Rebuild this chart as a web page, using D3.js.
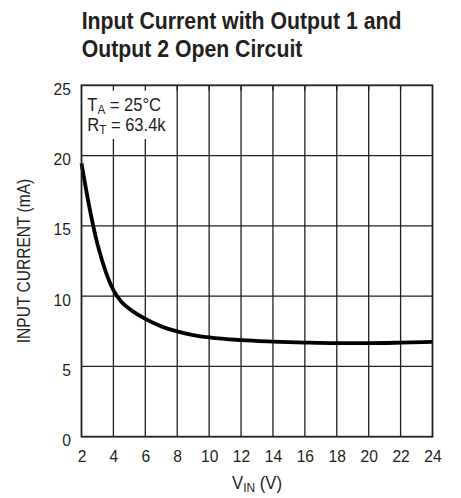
<!DOCTYPE html>
<html>
<head>
<meta charset="utf-8">
<script src="https://cdn.jsdelivr.net/npm/d3@7"></script>
<style>
  html, body { margin: 0; padding: 0; background: #fff; }
  svg { display: block; }
  .r { font-family: "Liberation Sans", Arial, Helvetica, sans-serif; fill: #231f20; }
</style>
</head>
<body>
<svg id="chart" width="461" height="498"></svg>
<script>
// ---- data ----
const vin = [2, 2.5, 3, 3.5, 4, 4.5, 5, 6, 7, 8, 9, 10, 12, 14, 16, 18, 20, 22, 24];
const current = [19.45, 16.3, 13.7, 11.8, 10.43, 9.6, 9.1, 8.38, 7.85, 7.49, 7.23, 7.06, 6.87, 6.77, 6.7, 6.66, 6.66, 6.69, 6.74];
const xTicks = [2, 4, 6, 8, 10, 12, 14, 16, 18, 20, 22, 24];
const yTicks = [0, 5, 10, 15, 20, 25];
const titleLines = ["Input Current with Output 1 and", "Output 2 Open Circuit"];

// ---- layout ----
const svg = d3.select("#chart");
const L = 81.5, R = 432.5, T = 85.3, B = 436.7;
const x = d3.scaleLinear().domain([2, 24]).range([L, R]);
const y = d3.scaleLinear().domain([0, 25]).range([B, T]);
const ink = "#231f20";

// horizontal condensing helper around a pivot x
function squeeze(sel, s, px) {
  sel.attr("transform", `translate(${px},0) scale(${s},1) translate(${-px},0)`);
}
function fitWidth(sel, target, px) {
  const w = sel.node().getBBox().width;
  const s = target / w;
  squeeze(sel, s, px);
  return s;
}

// title
const t1 = svg.append("text").attr("class", "r")
  .attr("x", 81.7).attr("y", 29.3).attr("font-size", 24.5).attr("font-weight", "bold")
  .text(titleLines[0]);
const ts = fitWidth(t1, 320, 81.7);
const t2 = svg.append("text").attr("class", "r")
  .attr("x", 81.7).attr("y", 56.7).attr("font-size", 24.5).attr("font-weight", "bold")
  .text(titleLines[1]);
squeeze(t2, ts, 81.7);

// grid
const g = svg.append("g");
g.selectAll(".vg").data(xTicks.slice(1, -1)).join("line")
  .attr("x1", d => x(d)).attr("x2", d => x(d))
  .attr("y1", T).attr("y2", B)
  .attr("stroke", ink).attr("stroke-width", 1.3);
g.selectAll(".hg").data(yTicks.slice(1, -1)).join("line")
  .attr("x1", L).attr("x2", R)
  .attr("y1", d => y(d)).attr("y2", d => y(d))
  .attr("stroke", ink).attr("stroke-width", 1.3);

// annotation box (white background hiding grid)
g.append("rect").attr("x", L).attr("y", T).attr("width", x(7.6) - L).attr("height", 139 - T)
  .attr("fill", "#fff");
// top inner ticks
g.selectAll(".tt").data(xTicks.slice(1, -1)).join("line")
  .attr("x1", d => x(d)).attr("x2", d => x(d))
  .attr("y1", T).attr("y2", T + 5.5)
  .attr("stroke", ink).attr("stroke-width", 1.3);

// curve
const line = d3.line().x((d, i) => x(vin[i])).y(d => y(d)).curve(d3.curveMonotoneX);
svg.append("path").datum(current).attr("d", line)
  .attr("fill", "none").attr("stroke", "#000").attr("stroke-width", 3.8)
  .attr("stroke-linejoin", "round");

// frame
svg.append("rect").attr("x", L).attr("y", T).attr("width", R - L).attr("height", B - T)
  .attr("fill", "none").attr("stroke", ink).attr("stroke-width", 1.8);

// axes labels via d3 axis (ticks hidden, labels only)
const xAxis = svg.append("g").attr("transform", `translate(0,${B})`)
  .call(d3.axisBottom(x).tickValues(xTicks).tickSize(0).tickPadding(0).tickFormat(d3.format("d")));
xAxis.select(".domain").remove();
xAxis.selectAll("text").attr("class", "r").attr("font-size", 17).attr("dy", null)
  .attr("y", 25.5).attr("fill", ink)
  .attr("transform", "scale(0.92,1)");

const yAxis = svg.append("g").attr("transform", `translate(${L},0)`)
  .call(d3.axisLeft(y).tickValues(yTicks).tickSize(0).tickPadding(0).tickFormat(d3.format("d")));
yAxis.select(".domain").remove();
yAxis.selectAll("text").attr("class", "r").attr("font-size", 17).attr("dy", null)
  .attr("x", -10.5).attr("y", 9).attr("fill", ink)
  .attr("transform", "translate(-10.5,0) scale(0.92,1) translate(10.5,0)");

// annotation text
const a1 = svg.append("text").attr("class", "r").attr("x", 87.3).attr("y", 110.7).attr("font-size", 18.5);
a1.append("tspan").text("T");
a1.append("tspan").attr("font-size", 13).attr("dy", 3).text("A");
a1.append("tspan").attr("dy", -3).text(" = 25°C");
const as = fitWidth(a1, 73.7, 87.3);
const a2 = svg.append("text").attr("class", "r").attr("x", 87.3).attr("y", 130.7).attr("font-size", 18.5);
a2.append("tspan").text("R");
a2.append("tspan").attr("font-size", 13).attr("dy", 3).text("T");
a2.append("tspan").attr("dy", -3).text(" = 63.4k");
squeeze(a2, as, 87.3);

// y label
const yl = svg.append("text").attr("class", "r").attr("font-size", 17.5)
  .attr("text-anchor", "middle").text("INPUT CURRENT (mA)");
const ylw = yl.node().getBBox().width;
yl.attr("transform", `translate(29.5,${(T + B) / 2}) rotate(-90) scale(${164.6 / ylw},1)`);

// x label
const xl = svg.append("text").attr("class", "r").attr("font-size", 17.5)
  .attr("x", (L + R) / 2).attr("y", 489).attr("text-anchor", "middle");
xl.append("tspan").text("V");
xl.append("tspan").attr("font-size", 12.5).attr("dy", 3).text("IN");
xl.append("tspan").attr("dy", -3).text(" (V)");
fitWidth(xl, 50, (L + R) / 2);
</script>
</body>
</html>
